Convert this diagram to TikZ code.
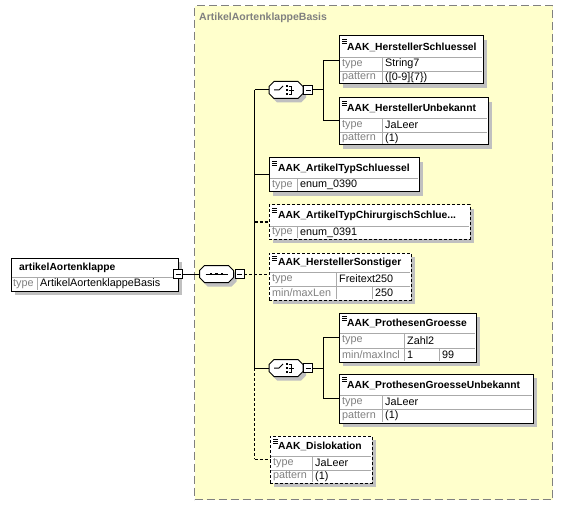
\documentclass[tikz,border=0pt]{standalone}
\usepackage{fontspec}
\setmainfont{Liberation Sans}
\definecolor{bgy}{RGB}{255,255,204}
\definecolor{shc}{RGB}{192,192,192}
\definecolor{dvc}{RGB}{170,170,170}
\definecolor{lbc}{RGB}{128,128,128}
\definecolor{frc}{RGB}{128,128,128}
\newcommand\octpath[2]{({#1-12},{#2-8.5}) -- ({#1+12},{#2-8.5}) -- ({#1+17},{#2-3.5}) -- ({#1+17},{#2+3.5}) -- ({#1+12},{#2+8.5}) -- ({#1-12},{#2+8.5}) -- ({#1-17},{#2+3.5}) -- ({#1-17},{#2-3.5}) -- cycle}
\newcommand\octo[2]{%
  \fill[shc,shift={(3,4)}] \octpath{#1}{#2};
  \draw[line width=1pt,fill=white] \octpath{#1}{#2};
}
\newcommand\ebox[7][]{%
  \fill[shc] ({#3+4},{#4+4}) rectangle ({#5+4},{#6+4});
  \node[ebx,#1,minimum width={(#5-#3)*1pt},minimum height={(#6-#4)*1pt}] (#2) at (#3,#4) {};
  \draw[dv] ({#3+0.6},#7) -- ({#5-0.6},#7);
  \draw[line width=0.6pt] ({#3+3},{#4+3}) -- ++(5,0) ({#3+3},{#4+5}) -- ++(5,0) ({#3+3},{#4+7}) -- ++(5,0);
}
\begin{document}
\begin{tikzpicture}[x=1pt,y=-1pt,
  ebx/.style={draw=black,line width=1pt,fill=white,inner sep=0pt,outer sep=0pt,anchor=north west},
  dbox/.style={dash pattern=on 3pt off 2pt},
  dv/.style={draw=dvc,line width=0.8pt},
  nm/.style={font=\fontsize{10.3}{12}\selectfont\bfseries,inner sep=0pt,anchor=west},
  lb/.style={font=\fontsize{10.8}{12}\selectfont,text=lbc,inner sep=0pt,anchor=west},
  vl/.style={font=\fontsize{10.8}{12}\selectfont,inner sep=0pt,anchor=west},
  cn/.style={line width=1pt},
  dcn/.style={line width=1pt,dash pattern=on 3pt off 2pt},
  minusbox/.style={draw,line width=0.9pt,fill=white,minimum size=9pt,inner sep=0pt,outer sep=0pt},
  ]
\useasboundingbox (0,0) rectangle (562,505);

% container
\node[draw=frc,fill=bgy,line width=1.2pt,dash pattern=on 8pt off 4pt,inner sep=0pt,anchor=north west,
      minimum width=358pt,minimum height=494pt] (basis) at (194,5) {};
\node[font=\fontsize{10.5}{12}\selectfont\bfseries,text=lbc,inner sep=0pt,anchor=west] (basist) at (199,17.5) {ArtikelAortenklappeBasis};

% root element
\fill[shc] (15,262) rectangle (182,295);
\node[ebx,minimum width=167pt,minimum height=33pt] (root) at (11,258) {};
\draw[dv] (11.6,277) -- (177.4,277);
\draw[dv] (37,277) -- (37,290.4);
\node[nm] (rootn) at (19,268) {artikelAortenklappe};
\node[lb] (rootl) at (13,284) {type};
\node[vl] (rootv) at (40,284) {ArtikelAortenklappeBasis};
\node[minusbox] (rootm) at (178,274) {};
\draw[line width=0.8pt] ([xshift=2pt]rootm.west) -- ([xshift=-2pt]rootm.east);

% sequence compositor
\octo{216.5}{274}
\coordinate (seqW) at (199.5,274);
\coordinate (seqC) at (216.5,274);
\draw[line width=1pt] (205.5,274) -- (227.5,274);
\foreach \dx in {-5.5,0,5.5}{\fill ({216.5+\dx-1.3},272.7) rectangle ++(2.6,2.6);}
\node[minusbox] (seqm) at (239.5,274) {};
\draw[line width=0.8pt] ([xshift=2pt]seqm.west) -- ([xshift=-2pt]seqm.east);
\draw[cn] (rootm.east) -- (seqW);

% bus
\coordinate (bus1) at (254.5,90);
\coordinate (bus2) at (254.5,368);
\coordinate (bus3) at (254.5,459);
\draw[cn] (bus1) -- (bus2);
\draw[dcn] (bus2) -- (bus3);

% choice 1
\octo{286}{90}
\coordinate (ch1W) at (269,90);
\draw[line width=1pt] (274,90) -- (279,90) -- (283,86);
\foreach \dy in {-4,0,4}{\fill (285.8,{90+\dy-1.2}) rectangle ++(2.4,2.4);}
\draw[line width=0.9pt] (288.5,86) -- (291.5,86) -- (291.5,94) -- (288.5,94) (288.5,90) -- (294,90);
\node[minusbox] (ch1m) at (308,90) {};
\draw[line width=0.8pt] ([xshift=2pt]ch1m.west) -- ([xshift=-2pt]ch1m.east);
\draw[cn] (bus1) -- (ch1W);
\coordinate (cb1) at (323,90);
\coordinate (cb1t) at (323,61);
\coordinate (cb1b) at (323,121);
\draw[cn] (ch1m.east) -- (cb1);
\draw[cn] (cb1t) -- (cb1b);

% AAK_HerstellerSchluessel
\ebox{hs}{339}{36}{483}{84}{57}
\draw[dv] (339.6,71) -- (482.4,71);
\draw[dv] (382,57) -- (382,83.4);
\node[nm] (hsn) at (347,47.5) {AAK\_HerstellerSchluessel};
\node[lb] (hsl1) at (342,64) {type};
\node[vl] (hsv1) at (385,64) {String7};
\node[lb] (hsl2) at (342,77.5) {pattern};
\node[vl] (hsv2) at (385,77.5) {([0-9]\{7\})};
\draw[cn] (cb1t) -- (hs.west |- cb1t);

% AAK_HerstellerUnbekannt
\ebox{hu}{339}{98}{488}{145}{118}
\draw[dv] (339.6,132) -- (487.4,132);
\draw[dv] (382,118) -- (382,144.4);
\node[nm] (hun) at (347,108.5) {AAK\_HerstellerUnbekannt};
\node[lb] (hul1) at (342,125) {type};
\node[vl] (huv1) at (385,125) {JaLeer};
\node[lb] (hul2) at (342,138.5) {pattern};
\node[vl] (huv2) at (385,138.5) {(1)};
\draw[cn] (cb1b) -- (hu.west |- cb1b);

% AAK_ArtikelTypSchluessel
\ebox{ats}{269}{158}{419}{192}{178}
\draw[dv] (297,178) -- (297,191.4);
\node[nm] (atsn) at (278,168.5) {AAK\_ArtikelTypSchluessel};
\node[lb] (atsl) at (272,185) {type};
\node[vl] (atsv) at (300,185) {enum\_0390};
\coordinate (b175) at (254.5,175);
\draw[cn] (b175) -- (ats.west |- b175);

% AAK_ArtikelTypChirurgischSchlue...
\ebox[dbox]{atc}{269}{205}{470}{239}{226}
\draw[dv] (297,226) -- (297,238.4);
\node[nm] (atcn) at (278,215.5) {AAK\_ArtikelTypChirurgischSchlue...};
\node[lb] (atcl) at (272,232.5) {type};
\node[vl] (atcv) at (300,232.5) {enum\_0391};
\coordinate (b222) at (254.5,222);
\draw[dcn] (b222) -- (atc.west |- b222);

% AAK_HerstellerSonstiger
\ebox[dbox]{son}{269}{253}{411}{300}{272}
\draw[dv] (269.6,286) -- (410.4,286);
\draw[dv] (336,272) -- (336,299.4);
\draw[dv] (372,286) -- (372,299.4);
\node[nm] (sonn) at (278,262.5) {AAK\_HerstellerSonstiger};
\node[lb] (sonl1) at (272,279) {type};
\node[vl] (sonv1) at (339,279) {Freitext250};
\node[lb] (sonl2) at (272,293) {min/maxLen};
\node[vl] (sonv2) at (375,293) {250};
\draw[dcn] (seqm.east) -- (son.west |- seqm.east);

% choice 2
\octo{286}{368}
\coordinate (ch2W) at (269,368);
\draw[line width=1pt] (274,368) -- (279,368) -- (283,364);
\foreach \dy in {-4,0,4}{\fill (285.8,{368+\dy-1.2}) rectangle ++(2.4,2.4);}
\draw[line width=0.9pt] (288.5,364) -- (291.5,364) -- (291.5,372) -- (288.5,372) (288.5,368) -- (294,368);
\node[minusbox] (ch2m) at (308,368) {};
\draw[line width=0.8pt] ([xshift=2pt]ch2m.west) -- ([xshift=-2pt]ch2m.east);
\draw[cn] (bus2) -- (ch2W);
\coordinate (cb2) at (323,368);
\coordinate (cb2t) at (323,337);
\coordinate (cb2b) at (323,398);
\draw[cn] (ch2m.east) -- (cb2);
\draw[cn] (cb2t) -- (cb2b);

% AAK_ProthesenGroesse
\ebox{pg}{339}{313}{476}{362}{333}
\draw[dv] (339.6,348) -- (475.4,348);
\draw[dv] (404,333) -- (404,361.4);
\draw[dv] (439,348) -- (439,361.4);
\node[nm] (pgn) at (347,323.5) {AAK\_ProthesenGroesse};
\node[lb] (pgl1) at (342,340.5) {type};
\node[vl] (pgv1) at (407,340.5) {Zahl2};
\node[lb] (pgl2) at (342,355) {min/maxIncl};
\node[vl] (pgv2) at (407,355) {1};
\node[vl] (pgv3) at (442,355) {99};
\draw[cn] (cb2t) -- (pg.west |- cb2t);

% AAK_ProthesenGroesseUnbekannt
\ebox{pgu}{339}{374}{533}{423}{395}
\draw[dv] (339.6,409) -- (532.4,409);
\draw[dv] (382,395) -- (382,422.4);
\node[nm] (pgun) at (347,385) {AAK\_ProthesenGroesseUnbekannt};
\node[lb] (pgul1) at (342,402) {type};
\node[vl] (pguv1) at (385,402) {JaLeer};
\node[lb] (pgul2) at (342,416) {pattern};
\node[vl] (pguv2) at (385,416) {(1)};
\draw[cn] (cb2b) -- (pgu.west |- cb2b);

% AAK_Dislokation
\ebox[dbox]{dis}{270}{436}{372}{483}{456}
\draw[dv] (270.6,470) -- (371.4,470);
\draw[dv] (312,456) -- (312,482.4);
\node[nm] (disn) at (278,446.5) {AAK\_Dislokation};
\node[lb] (disl1) at (273,463) {type};
\node[vl] (disv1) at (315,463) {JaLeer};
\node[lb] (disl2) at (273,476.5) {pattern};
\node[vl] (disv2) at (315,476.5) {(1)};
\draw[dcn] (bus3) -- (dis.west |- bus3);
\end{tikzpicture}
\end{document}
